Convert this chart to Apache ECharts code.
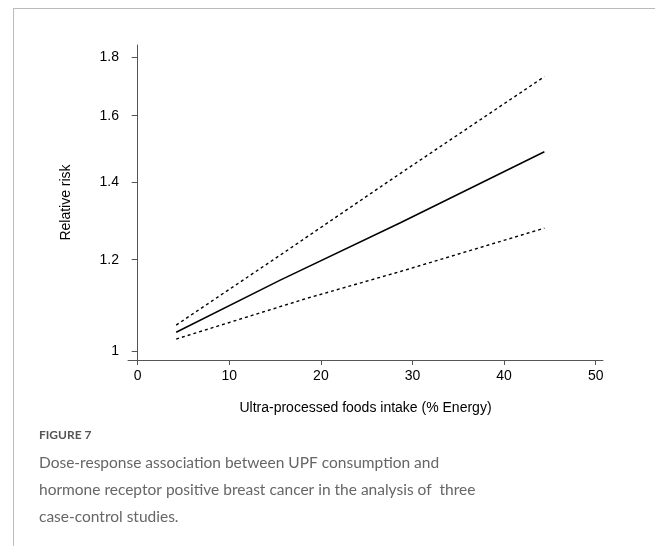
<!DOCTYPE html>
<html>
<head>
<meta charset="utf-8">
<script src="https://cdn.jsdelivr.net/npm/echarts@6/dist/echarts.min.js"></script>
<style>
html,body{margin:0;padding:0;background:#fff;}
#c{width:655px;height:546px;}
</style>
</head>
<body>
<div id="c"></div>
<script>
// Data
const estimateX = [4.2, 15.56, 28.68, 44.4];
const estimateY = [1.038, 1.152, 1.292, 1.489];
const upperX = [4.2, 15.56, 27.6, 44.4];
const upperY = [1.053, 1.211, 1.407, 1.730];
const lowerX = [4.2, 18.5, 28.68, 44.4];
const lowerY = [1.024, 1.111, 1.172, 1.278];
const xTicks = [0, 10, 20, 30, 40, 50];
const yTicks = [1, 1.2, 1.4, 1.6, 1.8];

const zip = (xs, ys) => xs.map((x, i) => [x, ys[i]]);

const chart = echarts.init(document.getElementById('c'), null, {renderer: 'canvas'});
const axisColor = '#555';
const font = '"Liberation Sans", Arial, sans-serif';
chart.setOption({
  animation: false,
  backgroundColor: '#fff',
  grid: {left: 128, right: 52, top: 45, bottom: 186, containLabel: false},
  xAxis: {
    type: 'value', min: -1.06, max: 50.8,
    name: 'Ultra-processed foods intake (% Energy)',
    nameLocation: 'middle', nameGap: 41,
    nameTextStyle: {color: '#000', fontSize: 14, fontFamily: font},
    axisLine: {show: true, lineStyle: {color: axisColor, width: 1}},
    axisTick: {show: true, length: 5, lineStyle: {color: axisColor}, customValues: xTicks},
    axisLabel: {color: '#000', fontSize: 14, fontFamily: font, margin: 9, customValues: xTicks,
      showMinLabel: true, showMaxLabel: true},
    splitLine: {show: false}
  },
  yAxis: {
    type: 'log', logBase: 10, min: 0.982, max: 1.843,
    name: 'Relative risk', nameLocation: 'middle', nameGap: 55, nameRotate: 90,
    nameTextStyle: {color: '#000', fontSize: 14, fontFamily: font},
    axisLine: {show: true, lineStyle: {color: axisColor, width: 1}},
    axisTick: {show: true, length: 6, lineStyle: {color: axisColor}, customValues: yTicks},
    axisLabel: {color: '#000', fontSize: 14, fontFamily: font, margin: 9, customValues: yTicks,
      formatter: v => String(+(+v).toFixed(1))},
    splitLine: {show: false}
  },
  series: [
    {type: 'line', data: zip(estimateX, estimateY), symbol: 'none', silent: true,
      lineStyle: {color: '#000', width: 1.5, type: 'solid'}},
    {type: 'line', data: zip(upperX, upperY), symbol: 'none', silent: true,
      lineStyle: {color: '#000', width: 1.4, type: [3, 3]}},
    {type: 'line', data: zip(lowerX, lowerY), symbol: 'none', silent: true,
      lineStyle: {color: '#000', width: 1.4, type: [3, 3]}}
  ],
  graphic: [
    {type: 'line', shape: {x1: 13, y1: 8.5, x2: 655, y2: 8.5}, style: {stroke: '#bbb', lineWidth: 1}},
    {type: 'line', shape: {x1: 13.5, y1: 8, x2: 13.5, y2: 546}, style: {stroke: '#bbb', lineWidth: 1}},
    {type: 'text', left: 39, top: 429, style: {text: 'FIGURE 7', fill: '#555', font: '700 12px Lato, sans-serif'}},
    {type: 'text', left: 39, top: 449, style: {
      text: 'Dose-response association between UPF consumption and\nhormone receptor positive breast cancer in the analysis of  three\ncase-control studies.',
      fill: '#666', font: '400 15.5px Lato, sans-serif', lineHeight: 27}}
  ]
});
</script>
</body>
</html>
